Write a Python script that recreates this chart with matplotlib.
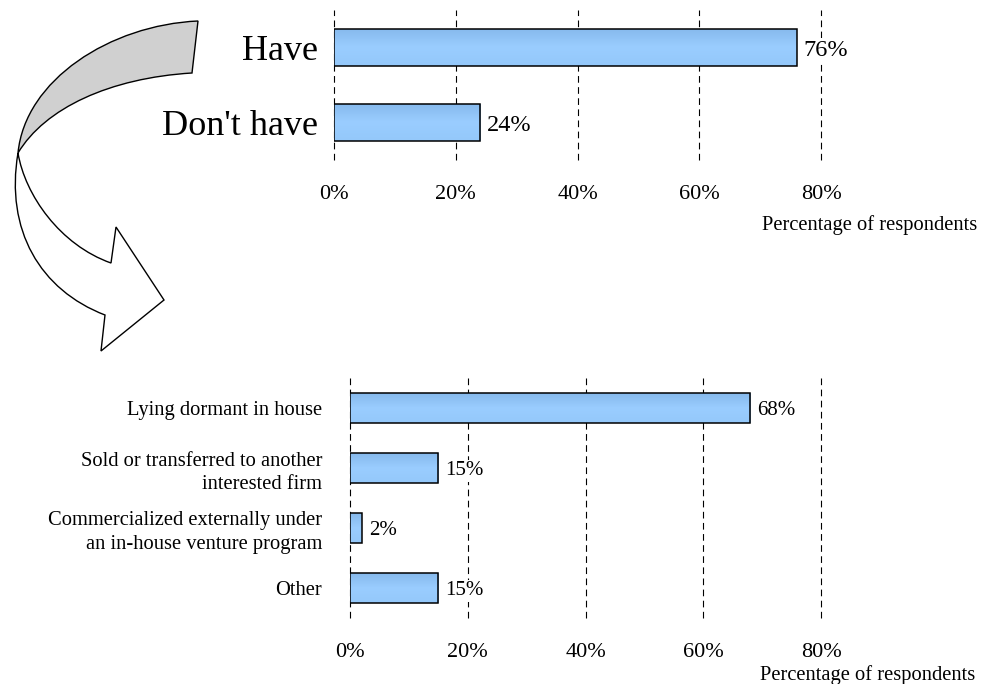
import matplotlib
matplotlib.use("Agg")
import matplotlib.pyplot as plt
import numpy as np
from matplotlib.path import Path
from matplotlib.patches import PathPatch
from matplotlib.colors import LinearSegmentedColormap

plt.rcParams["font.family"] = ["Liberation Serif", "DejaVu Serif"]

# Top panel: share of respondents
top_labels = ["Have", "Don't have"]
top_values = [76, 24]

# Bottom panel: what happens to it
bottom_labels = [
    "Lying dormant in house",
    "Sold or transferred to another\ninterested firm",
    "Commercialized externally under\nan in-house venture program",
    "Other",
]
bottom_values = [68, 15, 2, 15]

tick_values = [0, 20, 40, 60, 80]
tick_labels = ["0%", "20%", "40%", "60%", "80%"]
axis_title = "Percentage of respondents"

W, H = 989, 684
BAR_CMAP = LinearSegmentedColormap.from_list(
    "bar", ["#86B9EC", "#9ACDFF", "#94C8FA"])


def px(x, y):
    """Pixel position (origin top-left) to figure fraction."""
    return x / W, 1 - y / H


def gradient_bars(ax, bars):
    grad = np.linspace(0, 1, 64).reshape(-1, 1)
    for b in bars:
        x0, y0 = b.get_x(), b.get_y()
        w, h = b.get_width(), b.get_height()
        im = ax.imshow(grad, cmap=BAR_CMAP, aspect="auto",
                       extent=(x0, x0 + w, y0 + h, y0),
                       zorder=2, interpolation="bilinear")
        im.set_clip_path(b)


def panel(rect, labels, values, cat_size, val_size, label_pad, xlab_pos):
    ax = fig.add_axes(rect)
    y = np.arange(len(values))
    bars = ax.barh(y, values, height=0.5, color="#99CCFF",
                   edgecolor="black", linewidth=1.1, zorder=3)
    for b in bars:
        b.set_facecolor("none")
    gradient_bars(ax, bars)
    for yi, v in zip(y, values):
        ax.annotate(f"{v}%", (v, yi), xytext=(5, -2),
                    textcoords="offset points", ha="left", va="center",
                    fontsize=val_size, zorder=4,
                    bbox=dict(boxstyle="square,pad=0.08", fc="white",
                              ec="none"))
    ax.set_xlim(0, 80)
    ax.set_ylim(len(values) - 0.5, -0.5)
    ax.set_yticks(y)
    ax.set_yticklabels(labels, fontsize=cat_size, ha="right",
                       linespacing=1.3)
    ax.set_xticks(tick_values)
    ax.set_xticklabels(tick_labels, fontsize=16)
    ax.tick_params(axis="both", length=0)
    ax.tick_params(axis="x", pad=18)
    ax.tick_params(axis="y", pad=label_pad)
    for t in tick_values:
        ax.axvline(t, color="black", linewidth=0.8, dashes=(6, 4),
                   zorder=1, clip_on=False)
    for s in ax.spines.values():
        s.set_visible(False)
    ax.set_xlabel(axis_title, fontsize=14.8, ha="right", va="center")
    ax.xaxis.set_label_coords(*xlab_pos)
    return ax


fig = plt.figure(figsize=(9.89, 6.84), dpi=100)
fig.patch.set_facecolor("white")

panel([334 / W, 1 - 160 / H, 487 / W, 150 / H],
      top_labels, top_values, 26, 17.5, 11.5, (1.32, -0.433))
panel([350 / W, 1 - 618 / H, 471 / W, 240 / H],
      bottom_labels, bottom_values, 14.8, 15, 20, (1.327, -0.2375))

# Twisted curved arrow linking the two panels
C4 = Path.CURVE4
back = [
    (Path.MOVETO, (198, 21)),
    (C4, (110, 25)), (C4, (25, 80)), (C4, (18, 153)),
    (C4, (45, 108)), (C4, (110, 78)), (C4, (192, 73)),
    (Path.CLOSEPOLY, (198, 21)),
]
front = [
    (Path.MOVETO, (18, 153)),
    (C4, (5, 230)), (C4, (40, 290)), (C4, (105, 315)),
    (Path.LINETO, (101, 351)),
    (Path.LINETO, (164, 300)),
    (Path.LINETO, (116, 227)),
    (Path.LINETO, (111, 263)),
    (C4, (60, 245)), (C4, (25, 195)), (C4, (18, 153)),
    (Path.CLOSEPOLY, (18, 153)),
]
for segs, fc in [(back, "#D0D0D0"), (front, "white")]:
    codes = [c for c, _ in segs]
    verts = [px(*p) for _, p in segs]
    fig.patches.append(PathPatch(Path(verts, codes), facecolor=fc,
                                 edgecolor="black", linewidth=1.0,
                                 transform=fig.transFigure, figure=fig))

fig.savefig("out.png", dpi=100, facecolor="white")
